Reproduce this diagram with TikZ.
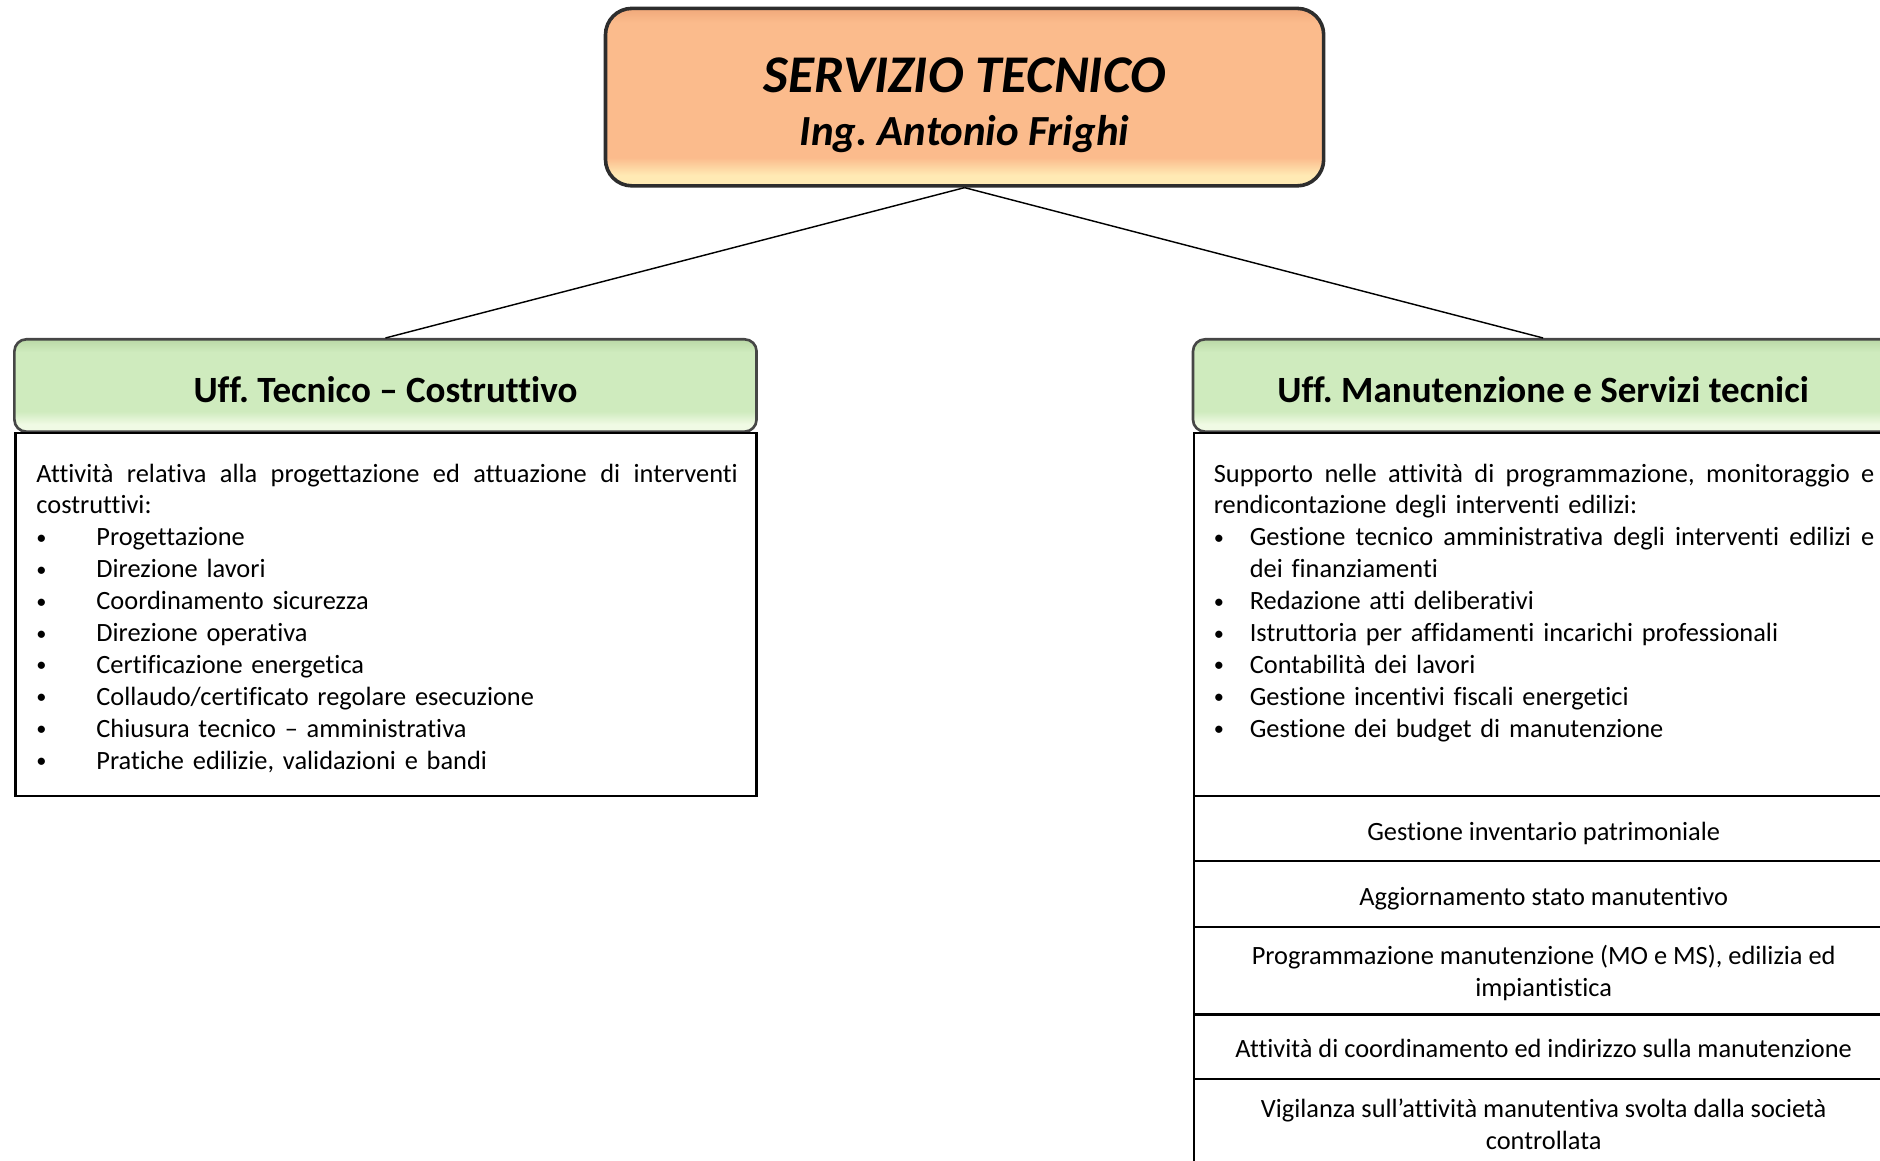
\documentclass[tikz,border=0pt]{standalone}
\usepackage{fontspec}
\setmainfont{Carlito}[Ligatures={NoCommon}]
\frenchspacing
\definecolor{orB}{RGB}{255,234,180}
\definecolor{orM}{RGB}{251,187,140}
\definecolor{orT}{RGB}{240,168,122}
\definecolor{grB}{RGB}{240,250,228}
\definecolor{grM}{RGB}{207,235,190}
\definecolor{grT}{RGB}{186,216,166}
\definecolor{edge}{RGB}{45,45,45}
\definecolor{gedge}{RGB}{70,70,70}
\pgfdeclareverticalshading{orsh}{100bp}{color(0bp)=(orB); color(25bp)=(orB); color(28bp)=(orB); color(33bp)=(orM); color(71bp)=(orM); color(75bp)=(orT); color(100bp)=(orT)}
\pgfdeclareverticalshading{grsh}{100bp}{color(0bp)=(grB); color(25bp)=(grB); color(29bp)=(grB); color(36bp)=(grM); color(68bp)=(grM); color(75bp)=(grT); color(100bp)=(grT)}
\newcommand{\bul}{{\fontsize{8.5}{8.5}\selectfont\raisebox{0.6pt}{•}}}
\begin{document}
\begin{tikzpicture}[x=0.5pt,y=-0.5pt,
  topbox/.style={draw=edge, line width=1.5pt, rounded corners=11pt, shading=orsh, minimum width=299.5pt, minimum height=74pt, inner sep=0pt},
  headbox/.style={draw=gedge, line width=1.1pt, rounded corners=5pt, shading=grsh, minimum height=38.5pt, inner sep=0pt},
  bodybox/.style={draw=black, line width=1pt, inner sep=0pt},
  cell/.style={draw=black, line width=1pt, inner sep=0pt, minimum width=291.5pt},
  celltext/.style={inner sep=0pt, align=center, font=\fontsize{11}{13.3}\selectfont},
  titlea/.style={anchor=base, inner sep=0pt, font=\fontsize{22.1}{26}\selectfont\bfseries\itshape},
  titleb/.style={anchor=base, inner sep=0pt, font=\fontsize{17.9}{21}\selectfont\bfseries\itshape},
  headtext/.style={anchor=base, inner sep=0pt, font=\fontsize{15.45}{18}\selectfont\bfseries},
  bodytext/.style={anchor=north west, inner sep=0pt, align=left, font=\fontsize{11}{13.3}\selectfont},
  conn/.style={draw=black, line width=0.6pt}]
\useasboundingbox (0,0) rectangle (1568,968);
\clip (0,0) rectangle (1568,968);
% top box
\node[topbox] (top) at (804.5,81) {};
\node[titlea] (t1) at (804.5,77) {SERVIZIO TECNICO};
\node[titleb] (t2) at (804.5,121) {Ing. Antonio Frighi};
% headers
\node[headbox, minimum width=309.5pt] (lh) at (321.5,321.5) {};
\node[headtext] (lht) at (321.5,335.5) {Uff. Tecnico – Costruttivo};
\node[headbox, minimum width=292pt] (rh) at (1287,321.5) {};
\node[headtext] (rht) at (1287,335.5) {Uff. Manutenzione e Servizi tecnici};
% connectors
\draw[conn] (top.south) -- (lh.north);
\draw[conn] (top.south) -- (rh.north);
% bodies
\node[bodybox, minimum width=309pt, minimum height=151.5pt] (lb) at (322,512.5) {};
\node[bodybox, minimum width=291.5pt, minimum height=151.5pt] (rb) at (1287.5,512.5) {};
\node[bodytext, text width=292.5pt] (lbt) at (30,383) {%
\strut\hbox to 292.5pt{Attività\hfill relativa\hfill alla\hfill progettazione\hfill ed\hfill attuazione\hfill di\hfill interventi}\\
costruttivi:\\
\makebox[25pt][l]{\bul}Progettazione\\
\makebox[25pt][l]{\bul}Direzione lavori\\
\makebox[25pt][l]{\bul}Coordinamento sicurezza\\
\makebox[25pt][l]{\bul}Direzione operativa\\
\makebox[25pt][l]{\bul}Certificazione energetica\\
\makebox[25pt][l]{\bul}Collaudo/certificato regolare esecuzione\\
\makebox[25pt][l]{\bul}Chiusura tecnico – amministrativa\\
\makebox[25pt][l]{\bul}Pratiche edilizie, validazioni e bandi};
\node[bodytext, text width=275.5pt] (rbt) at (1012,383) {%
\strut\hbox to 275.5pt{Supporto\hfill nelle\hfill attività\hfill di\hfill programmazione,\hfill monitoraggio\hfill e}\\
rendicontazione degli interventi edilizi:\\
\makebox[15pt][l]{\bul}\hbox to 260.5pt{Gestione\hfill tecnico\hfill amministrativa\hfill degli\hfill interventi\hfill edilizi\hfill e}\\
\hspace*{15pt}dei finanziamenti\\
\makebox[15pt][l]{\bul}Redazione atti deliberativi\\
\makebox[15pt][l]{\bul}Istruttoria per affidamenti incarichi professionali\\
\makebox[15pt][l]{\bul}Contabilità dei lavori\\
\makebox[15pt][l]{\bul}Gestione incentivi fiscali energetici\\
\makebox[15pt][l]{\bul}Gestione dei budget di manutenzione};
% right cells
\node[cell, minimum height=27pt] (c1) at (1287.5,691) {};
\node[cell, minimum height=27.5pt] (c2) at (1287.5,745.5) {};
\node[cell, minimum height=36.5pt] (c3) at (1287.5,809.5) {};
\node[cell, minimum height=27pt] (c4) at (1287.5,873) {};
\node[cell, minimum height=37pt] (c5) at (1287.5,937) {};
\node[celltext] (c1t) at (1287.5,695) {Gestione inventario patrimoniale};
\node[celltext] (c2t) at (1287.5,749.5) {Aggiornamento stato manutentivo};
\node[celltext] (c3t) at (1287.5,811.5) {Programmazione manutenzione (MO e MS), edilizia ed\\impiantistica};
\node[celltext] (c4t) at (1287.5,874.5) {Attività di coordinamento ed indirizzo sulla manutenzione};
\node[celltext] (c5t) at (1287.5,938) {Vigilanza sull’attività manutentiva svolta dalla società\\controllata};
\end{tikzpicture}
\end{document}
